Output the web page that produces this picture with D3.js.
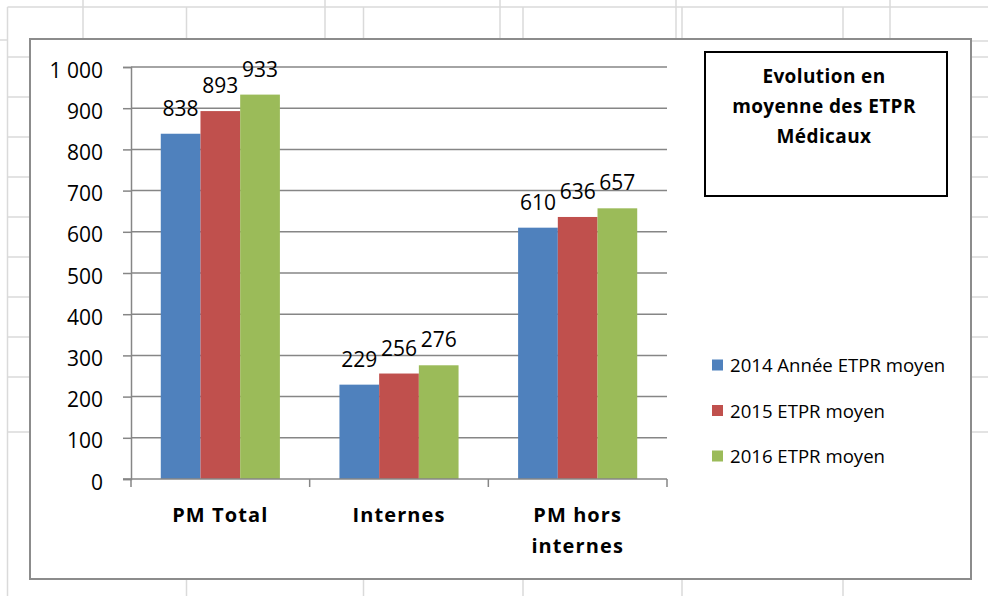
<!DOCTYPE html>
<html>
<head>
<meta charset="utf-8">
<script src="https://cdn.jsdelivr.net/npm/d3@7"></script>
<style>
  body { margin: 0; background: #fff; }
  svg { display: block; font-family: 'Open Sans', sans-serif; }
</style>
</head>
<body>
<svg id="chart" width="988" height="596"></svg>
<script>
// chart data
const categories = ['PM Total', 'Internes', 'PM hors internes']
const categoryLines = [['PM Total'], ['Internes'], ['PM hors', 'internes']]
const seriesNames = ['2014 Année ETPR moyen', '2015 ETPR moyen', '2016 ETPR moyen']
const values2014 = [838, 229, 610]
const values2015 = [893, 256, 636]
const values2016 = [933, 276, 657]
const seriesColors = ['#4F81BD', '#C0504D', '#9BBB59']
const yTicks = [0, 100, 200, 300, 400, 500, 600, 700, 800, 900, 1000]
const titleLines = ['Evolution en', 'moyenne des ETPR', 'Médicaux']

const seriesValues = [values2014, values2015, values2016]

const svg = d3.select('#chart')
const fr = d3.formatLocale({decimal: ',', thousands: '\u00a0', grouping: [3], currency: ['', '']})
const fmt = fr.format(',d')

// spreadsheet grid behind the chart
const sheet = svg.append('g').attr('stroke', '#dadada').attr('stroke-width', 1.5)
const sheetLine = (x1, y1, x2, y2) => sheet.append('line')
  .attr('x1', x1).attr('y1', y1).attr('x2', x2).attr('y2', y2)
sheetLine(7.5, 7, 988, 7)
;[83, 325, 500, 676, 890].forEach(x => sheetLine(x, 0, x, 40))
;[7.5, 186.5, 363.5, 523, 682, 843].forEach(x => sheetLine(x, 7, x, 596))
sheetLine(0, 40, 7.5, 40)
sheetLine(971, 41, 988, 41)
;[57, 97, 137, 177, 217, 257, 297, 337, 377, 432].forEach(y => {
  sheetLine(7.5, y, 30, y)
  sheetLine(971, y, 988, y)
})

// chart frame
svg.append('rect')
  .attr('x', 30).attr('y', 39).attr('width', 941).attr('height', 540)
  .attr('fill', '#fff').attr('stroke', '#8c8c8c').attr('stroke-width', 2)

// scales
const x = d3.scaleBand().domain(categories).range([131, 667])
const xs = d3.scaleBand().domain(seriesNames).range([0, x.bandwidth()]).paddingOuter(0.75)
const y = d3.scaleLinear().domain([0, 1000]).range([479, 67])

const axisColor = '#868686'

// gridlines
svg.append('g')
  .selectAll('line')
  .data(yTicks.slice(1))
  .join('line')
  .attr('x1', 131).attr('x2', 667)
  .attr('y1', d => y(d)).attr('y2', d => y(d))
  .attr('stroke', axisColor).attr('stroke-width', 1.5)

// y axis
const yAxis = svg.append('g')
  .attr('transform', 'translate(131,0)')
  .call(d3.axisLeft(y).tickValues(yTicks).tickSize(8).tickPadding(20).tickFormat(fmt))
yAxis.select('.domain').attr('stroke', axisColor).attr('stroke-width', 1.5)
yAxis.selectAll('.tick line').attr('stroke', axisColor).attr('stroke-width', 1.5)
yAxis.selectAll('.tick text')
  .attr('dy', '0.48em')
  .attr('fill', '#000')
  .style('font-size', '21px')
  .style('font-family', "'Open Sans', sans-serif")

// bars
const bars = svg.append('g')
seriesValues.forEach((vals, si) => {
  bars.append('g')
    .attr('fill', seriesColors[si])
    .selectAll('rect')
    .data(vals)
    .join('rect')
    .attr('x', (d, i) => x(categories[i]) + xs(seriesNames[si]))
    .attr('width', xs.bandwidth())
    .attr('y', d => y(d))
    .attr('height', d => y(0) - y(d))
})

// x axis line and ticks
const xAxis = svg.append('g').attr('stroke', axisColor).attr('stroke-width', 1.5)
xAxis.append('line')
  .attr('x1', 123).attr('x2', 667).attr('y1', y(0)).attr('y2', y(0))
const bounds = categories.map(c => x(c)).concat([x.range()[1]])
xAxis.selectAll('line.tick')
  .data(bounds)
  .join('line')
  .attr('class', 'tick')
  .attr('x1', d => d).attr('x2', d => d)
  .attr('y1', y(0)).attr('y2', y(0) + 8)

// data labels
seriesValues.forEach((vals, si) => {
  svg.append('g')
    .selectAll('text')
    .data(vals)
    .join('text')
    .attr('x', (d, i) => x(categories[i]) + xs(seriesNames[si]) + xs.bandwidth() / 2)
    .attr('y', d => y(d) - 18)
    .attr('text-anchor', 'middle')
    .style('font-size', '21px')
    .text(d => fmt(d))
})

// category labels
const catLabels = svg.append('g')
  .selectAll('text')
  .data(categoryLines)
  .join('text')
  .attr('text-anchor', 'middle')
  .attr('y', 522)
  .style('font-size', '20px')
  .style('font-weight', 'bold')
  .style('letter-spacing', '1.1px')
catLabels.selectAll('tspan')
  .data((d, i) => d.map(line => ({line, i})))
  .join('tspan')
  .attr('x', d => x(categories[d.i]) + x.bandwidth() / 2)
  .attr('dy', (d, j) => j === 0 ? 0 : 31)
  .text(d => d.line)

// title box
svg.append('rect')
  .attr('x', 705).attr('y', 52).attr('width', 242).attr('height', 144)
  .attr('fill', '#fff').attr('stroke', '#000').attr('stroke-width', 2)
svg.append('g')
  .selectAll('text')
  .data(titleLines)
  .join('text')
  .attr('x', 824)
  .attr('y', (d, i) => 83 + i * 30)
  .attr('text-anchor', 'middle')
  .style('font-size', '19px')
  .style('font-weight', 'bold')
  .style('letter-spacing', '0.4px')
  .text(d => d)

// legend
const legend = svg.append('g')
  .selectAll('g')
  .data(seriesNames)
  .join('g')
  .attr('transform', (d, i) => `translate(712,${365 + i * 45.5})`)
legend.append('rect')
  .attr('x', 0).attr('y', -5.5).attr('width', 11).attr('height', 11)
  .attr('fill', (d, i) => seriesColors[i])
legend.append('text')
  .attr('x', 18).attr('y', 7)
  .style('font-size', '18.6px')
  .text(d => d)
</script>
</body>
</html>
